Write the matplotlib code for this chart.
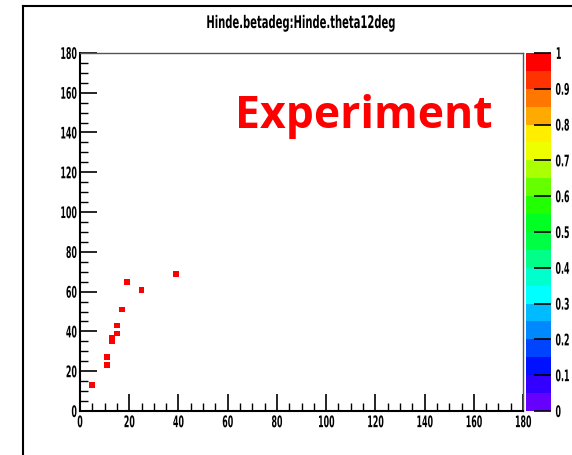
import matplotlib
matplotlib.use("Agg")
import matplotlib.pyplot as plt
import numpy as np
from matplotlib.colors import ListedColormap, BoundaryNorm
from matplotlib.colorbar import ColorbarBase
from matplotlib.lines import Line2D
from matplotlib.patheffects import AbstractPathEffect
from matplotlib.transforms import Affine2D

# theta12 (x) vs beta (y), degrees, one entry per bin
theta12 = [5, 11, 11, 13, 13, 15, 15, 17, 19, 25, 39]
beta = [13, 27, 23, 37, 35, 43, 39, 51, 65, 61, 69]
counts = [1, 1, 1, 1, 1, 1, 1, 1, 1, 1, 1]

title = "Hinde.betadeg:Hinde.theta12deg"
label = "Experiment"

# 20-step palette, bottom to top
palette = [
    "#6600ff", "#3300ff", "#0011ff", "#0044ff", "#0088ff",
    "#00bbff", "#00ffff", "#00ffcc", "#00ff88", "#00ff44",
    "#00ff22", "#22ff00", "#66ff00", "#aaff00", "#eeff00",
    "#ffee00", "#ffaa00", "#ff7700", "#ff3300", "#ff0000",
]


class Squeeze(AbstractPathEffect):
    """Draw text glyphs compressed horizontally (narrow bold look)."""

    def __init__(self, sx=0.55, anchor="center"):
        super().__init__()
        self.sx = sx
        self.anchor = anchor

    def draw_path(self, renderer, gc, tpath, affine, rgbFace=None):
        ext = tpath.get_extents(affine)
        x0 = {"left": ext.x0, "right": ext.x1}.get(self.anchor,
                                                  0.5 * (ext.x0 + ext.x1))
        squeeze = Affine2D().translate(-x0, 0).scale(self.sx, 1).translate(x0, 0)
        renderer.draw_path(gc, tpath, affine + squeeze, rgbFace)


narrow = dict(family="DejaVu Sans", stretch="condensed", weight="bold")


def narrow_labels(labels, size, anchor):
    for lab in labels:
        lab.set_fontproperties(dict(size=size, **narrow))
        lab.set_path_effects([Squeeze(0.55, anchor)])


cmap = ListedColormap(palette)
bounds = np.linspace(0, 1, 21)
norm = BoundaryNorm(bounds, cmap.N)

fig = plt.figure(figsize=(5.72, 4.55), dpi=100)
ax = fig.add_axes([0.1399, 0.0967, 0.7745, 0.787])

ax.scatter(theta12, beta, c=counts, cmap=cmap, norm=norm, marker="s",
           s=17, linewidths=0, zorder=3)

ax.set_xlim(0, 180)
ax.set_ylim(0, 180)
ax.set_xticks(np.arange(0, 181, 20))
ax.set_yticks(np.arange(0, 181, 20))
ax.set_xticks(np.arange(0, 181, 5), minor=True)
ax.set_yticks(np.arange(0, 181, 5), minor=True)
ax.tick_params(which="major", direction="in", length=12, width=1.2,
               top=False, right=False)
ax.tick_params(axis="x", which="major", pad=3)
ax.tick_params(axis="y", which="major", pad=2)
ax.tick_params(which="minor", direction="in", length=6, width=1,
               top=False, right=False)
narrow_labels(ax.get_xticklabels(), 11.5, "center")
narrow_labels(ax.get_yticklabels(), 11.5, "right")
for side in ["left", "bottom"]:
    ax.spines[side].set_linewidth(1.5)
for side in ["top", "right"]:
    ax.spines[side].set_linewidth(1)
    ax.spines[side].set_color("#555555")

ax.text(0.641, 0.822, label, transform=ax.transAxes, color="#ff0000",
        fontsize=32, fontweight="bold", family=["Open Sans", "DejaVu Sans"],
        ha="center", va="center")

fig.text(301 / 572, 1 - 23 / 455, title, ha="center", va="center",
         fontproperties=dict(size=12.5, **narrow),
         path_effects=[Squeeze(0.64, "center")])

# palette axis
cax = fig.add_axes([0.9196, 0.0967, 0.0437, 0.787])
cb = ColorbarBase(cax, cmap=cmap, norm=norm, boundaries=bounds,
                  ticks=np.linspace(0, 1, 11), spacing="proportional")
cb.outline.set_visible(False)
cb.set_ticklabels(["0", "0.1", "0.2", "0.3", "0.4", "0.5",
                   "0.6", "0.7", "0.8", "0.9", "1"])
cax.tick_params(direction="in", length=12, width=1.2, pad=3)
cax.minorticks_off()
narrow_labels(cax.get_yticklabels(), 11.5, "left")

# canvas border
fig.add_artist(Line2D([23 / 572, 23 / 572], [0, 1 - 6 / 455],
                      color="black", lw=1.5, transform=fig.transFigure))
fig.add_artist(Line2D([23 / 572, 1], [1 - 6 / 455, 1 - 6 / 455],
                      color="black", lw=1.5, transform=fig.transFigure))

fig.savefig("out.png", dpi=100)
